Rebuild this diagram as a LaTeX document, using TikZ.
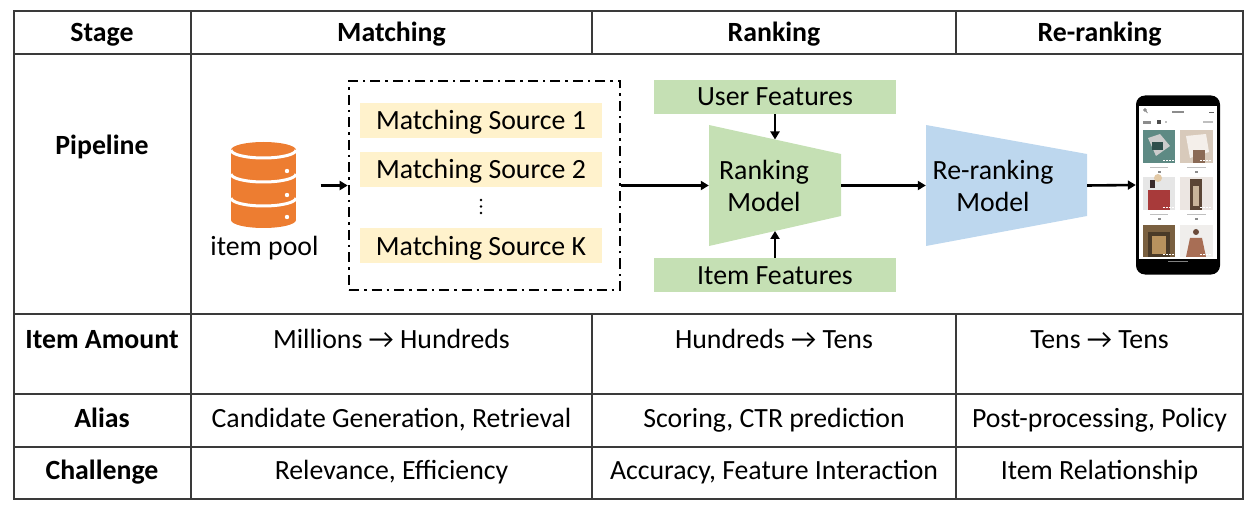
\documentclass[tikz,border=0pt]{standalone}
\usepackage{fontspec}
\setmainfont{Carlito}
\usetikzlibrary{arrows.meta,calc}
\definecolor{dbor}{HTML}{ED7D31}
\definecolor{srcy}{HTML}{FFF2CC}
\definecolor{featg}{HTML}{C5E0B4}
\definecolor{rerb}{HTML}{BDD7EE}
\definecolor{tline}{HTML}{3A3A3A}
\definecolor{pa}{HTML}{5E8A84}
\definecolor{pb}{HTML}{2F4F4C}
\definecolor{pc}{HTML}{D8CABB}
\definecolor{pd}{HTML}{F4EFEA}
\definecolor{pe}{HTML}{8A6A55}
\definecolor{pf}{HTML}{E6E6E6}
\definecolor{pg}{HTML}{A83A3A}
\definecolor{ph}{HTML}{3A2A2A}
\definecolor{pi}{HTML}{E2C9A6}
\definecolor{pj}{HTML}{ECE6E2}
\definecolor{pk}{HTML}{5A4535}
\definecolor{pl}{HTML}{C8B49A}
\definecolor{pm}{HTML}{7A6040}
\definecolor{pn}{HTML}{4A3A28}
\definecolor{po}{HTML}{B8925E}
\definecolor{pp}{HTML}{F0EEEC}
\definecolor{pq}{HTML}{A86E55}
\definecolor{pr}{HTML}{6A4A3A}
\newcommand\fs{\fontsize{27.8}{32}\selectfont}
\tikzset{
  txt/.style={font=\fs, inner sep=0pt, text height=18pt, text depth=0pt, anchor=center},
  hdr/.style={txt, font=\fs\bfseries},
  tbl/.style={draw=tline, line width=1.4pt},
  srcbox/.style={txt, fill=srcy, minimum width=242pt, minimum height=35pt},
  featbox/.style={txt, fill=featg, minimum width=242pt, minimum height=34pt},
  arr/.style={-{Triangle[length=8pt,width=9pt]}, line width=2.6pt},
  dashdotbox/.style={draw, line width=2.6pt, dash pattern=on 10pt off 5pt on 2.5pt off 5pt},
  ghost/.style={inner sep=0pt, draw=none},
  modeltxt/.style={font=\fs, inner sep=0pt, align=center},
}
\begin{document}
\begin{tikzpicture}[x=1pt,y=-1pt]
\useasboundingbox (0,0) rectangle (1256,513);
% ---------- table ----------
\draw[tbl] (14,11) rectangle (1243,499);
\draw[tbl] (14,54) -- (1243,54);
\draw[tbl] (14,314) -- (1243,314);
\draw[tbl] (14,394) -- (1243,394);
\draw[tbl] (14,447) -- (1243,447);
\draw[tbl] (191,11) -- (191,499);
\draw[tbl] (592,11) -- (592,54);
\draw[tbl] (592,314) -- (592,499);
\draw[tbl] (956,11) -- (956,54);
\draw[tbl] (956,314) -- (956,499);
% headers
\node[hdr] (hstage) at (102,33) {Stage};
\node[hdr] (hmatch) at (391.5,33) {Matching};
\node[hdr] (hrank) at (774,33) {Ranking};
\node[hdr] (hrerank) at (1099.5,33) {Re-ranking};
\node[hdr] (lpipe) at (102,146) {Pipeline};
\node[hdr] (lamount) at (102,339) {Item Amount};
\node[hdr] (lalias) at (102,418) {Alias};
\node[hdr] (lchal) at (102,470) {Challenge};
% rows
\node[txt] (am1) at (391.5,339) {Millions → Hundreds};
\node[txt] (am2) at (774,339) {Hundreds → Tens};
\node[txt] (am3) at (1099.5,339) {Tens → Tens};
\node[txt] (al1) at (391.5,418) {Candidate Generation, Retrieval};
\node[txt] (al2) at (774,418) {Scoring, CTR prediction};
\node[txt] (al3) at (1099.5,418) {Post-processing, Policy};
\node[txt] (ch1) at (391.5,470) {Relevance, Efficiency};
\node[txt] (ch2) at (774,470) {Accuracy, Feature Interaction};
\node[txt] (ch3) at (1099.5,470) {Item Relationship};
% ---------- database icon ----------
\fill[dbor] (231,150) rectangle (296,220);
\fill[dbor] (263.5,150) ellipse [x radius=32.5pt, y radius=8pt];
\fill[dbor] (263.5,220) ellipse [x radius=32.5pt, y radius=8pt];
\foreach \yy in {150,174,198}
  \draw[white,line width=3pt] (231,\yy) .. controls (231,\yy+4.4) and (245.6,\yy+8) .. (263.5,\yy+8) .. controls (281.4,\yy+8) and (296,\yy+4.4) .. (296,\yy);
\foreach \yy in {171,195,217}
  \fill[white] (287,\yy) circle (2.2pt);
\node[ghost, minimum width=66pt, minimum height=87pt] (db) at (263.5,185.5) {};
\node[txt] (pool) at (264.5,246) {item pool};
% ---------- matching ----------
\node[dashdotbox, minimum width=271pt, minimum height=209pt, inner sep=0pt] (mbox) at (484.5,185.5) {};
\node[srcbox] (s1) at (481,120.5) {Matching Source 1};
\node[srcbox] (s2) at (481,170) {Matching Source 2};
\node[srcbox] (sK) at (481,246) {Matching Source K};
\foreach \yy in {200,206.5,213} \fill (481,\yy) circle (1.4pt);
\draw[arr] ([xshift=24pt]db.east) -- (mbox.west);
% ---------- ranking ----------
\fill[featg] (709,125) -- (841,154) -- (841,216) -- (709,246) -- cycle;
\node[ghost, minimum width=132pt, minimum height=121pt] (rank) at (775,185.5) {};
\node[modeltxt] (ranktxt) at (764,185.5) {Ranking\\Model};
\node[featbox] (uf) at (775,97) {User Features};
\node[featbox] (itf) at (775,275) {Item Features};
\coordinate (rtop) at (775,139.5);
\coordinate (rbot) at (775,231);
\draw[arr] (uf.south) -- (rtop);
\draw[arr] (itf.north) -- (rbot);
\draw[arr] (mbox.east) -- (rank.west);
% ---------- re-ranking ----------
\fill[rerb] (926,125) -- (1087,154) -- (1087,216) -- (926,246) -- cycle;
\node[ghost, minimum width=161pt, minimum height=121pt] (rerank) at (1006.5,185.5) {};
\node[modeltxt] (reranktxt) at (993,185.5) {Re-ranking\\Model};
\draw[arr] (rank.east) -- (rerank.west);
% ---------- phone ----------
\node[ghost, fill=black, rounded corners=9pt, minimum width=84pt, minimum height=179pt] (phone) at (1178,185) {};
\fill[white] (1139,106) rectangle (1217,259);
\draw[black!60, line width=0.6pt] (1145,110) circle (1.4pt);
\draw[black!60, line width=0.6pt] (1146,111.2) -- (1147.5,113);
\fill[black!45] (1172,111) rectangle (1184,113);
\draw[black!60, line width=0.6pt] (1209,112) -- (1214,112);
\fill[black!45] (1143,121) rectangle (1151,124);
\fill[black!70] (1157,120) rectangle (1161,124);
\fill[black!25] (1165,121) rectangle (1167,123);
\fill[black!25] (1203,121) rectangle (1213,123);
% images row 1
\fill[pa] (1143,130) rectangle (1175,163);
\fill[white!80!black] (1148,138) -- (1160,134) -- (1170,146) -- (1156,156) -- cycle;
\fill[pb] (1152,142) rectangle (1163,150);
\fill[pc] (1180,130) rectangle (1213,163);
\fill[pd] (1186,136) -- (1206,134) -- (1209,152) -- (1190,158) -- cycle;
\fill[pe] (1193,150) rectangle (1205,163);
% images row 2
\fill[pf] (1143,177) rectangle (1175,210);
\fill[pg] (1148,190) rectangle (1170,210);
\fill[ph] (1150,180) rectangle (1155,188);
\fill[pi] (1158,178) circle (4pt);
\fill[pj] (1180,177) rectangle (1213,210);
\fill[pk] (1190,179) rectangle (1202,210);
\fill[pl] (1193,186) rectangle (1199,206);
% images row 3
\fill[pm] (1143,225) rectangle (1175,257);
\fill[pn] (1148,232) rectangle (1170,257);
\fill[po] (1152,236) rectangle (1166,254);
\fill[pp] (1180,225) rectangle (1213,257);
\fill[pq] (1190,238) -- (1202,238) -- (1206,257) -- (1186,257) -- cycle;
\fill[pr] (1196,232) circle (3pt);
% captions
\foreach \yy in {167,214} {
  \fill[black!25] (1150,\yy) rectangle (1168,\yy+1.2);
  \fill[black!25] (1187,\yy) rectangle (1206,\yy+1.2);
  \fill[black!45] (1158,\yy+4) rectangle (1161,\yy+6);
  \fill[black!45] (1195,\yy+4) rectangle (1198,\yy+6);
}
\foreach \xx in {1163,1166,1169,1172,1200,1203,1206,1209} {
  \fill[white] (\xx,160) rectangle (\xx+1.5,161.5);
  \fill[white] (\xx,207) rectangle (\xx+1.5,208.5);
  \fill[white] (\xx,254) rectangle (\xx+1.5,255.5);
}
\draw[black!50, line width=1pt] (1168,262) -- (1188,262);
\draw[arr] (rerank.east) -- (phone.west);
\end{tikzpicture}
\end{document}
